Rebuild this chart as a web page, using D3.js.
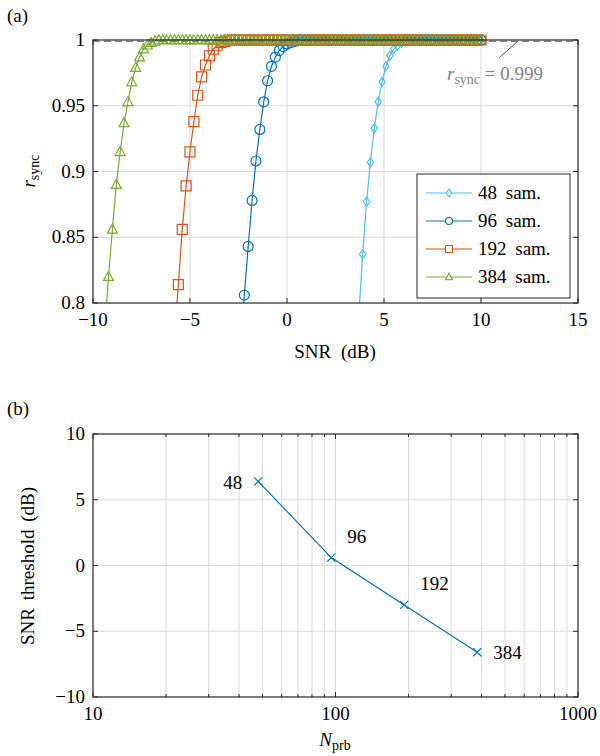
<!DOCTYPE html>
<html>
<head>
<meta charset="utf-8">
<script src="https://cdn.jsdelivr.net/npm/d3@7"></script>
<style>
  body { margin: 0; background: #fff; }
  svg text { font-family: "Times New Roman", "Liberation Serif", Times, serif; }
</style>
</head>
<body>
<svg id="chart" width="600" height="756"></svg>
<script>
// ---- data, panel (a) ----
const seriesNames = ["48 sam.", "96 sam.", "192 sam.", "384 sam."];
const seriesColors = ["#4DBEEE", "#0072BD", "#D95319", "#77AC30"];
const seriesMarkers = ["diamond", "circle", "square", "triangle"];
// first SNR of each rising part (dB), sampled every 0.2 dB
const riseStart = [3.7, -2.4, -5.8, -9.4];
const riseStep = 0.2;
const rise48 = [0.79, 0.837, 0.877, 0.907, 0.933, 0.953, 0.968, 0.98, 0.988, 0.993, 0.996, 0.998, 0.999];
const rise96 = [0.77, 0.806, 0.843, 0.878, 0.908, 0.932, 0.953, 0.969, 0.98, 0.987, 0.992, 0.995, 0.997, 0.998, 0.999];
const rise192 = [0.775, 0.814, 0.856, 0.889, 0.915, 0.938, 0.958, 0.972, 0.981, 0.988, 0.993, 0.996, 0.998, 0.999];
const rise384 = [0.78, 0.82, 0.856, 0.89, 0.915, 0.937, 0.953, 0.968, 0.979, 0.987, 0.993, 0.996, 0.998, 0.999];
const riseValues = [rise48, rise96, rise192, rise384];
const plateauValue = 1;   // all curves sit at 1 up to the last SNR
const snrEnd = 10;
const rThreshold = 0.999;
const xTicksA = [-10, -5, 0, 5, 10, 15];
const yTicksA = [0.8, 0.85, 0.9, 0.95, 1];

// ---- data, panel (b) ----
const nprb = [48, 96, 192, 384];
const snrThreshold = [6.4, 0.6, -3.0, -6.6];
const xTicksB = [10, 100, 1000];
const yTicksB = [-10, -5, 0, 5, 10];

const svg = d3.select("#chart");
const axisColor = "#262626";
const gridColor = "#d9d9d9";
const fmt = d => d < 0 ? "\u2212" + Math.abs(d) : String(d);

function buildSeries(i) {
    const pts = riseValues[i].map((v, k) => ({ x: +(riseStart[i] + k * riseStep).toFixed(2), y: v }));
    let x = pts[pts.length - 1].x + riseStep;
    while (x <= snrEnd + 1e-6) {
        pts.push({ x: +x.toFixed(2), y: plateauValue });
        x += riseStep;
    }
    return pts;
}

function markerPath(type, s) {
    if (type === "circle") return d3.symbol(d3.symbolCircle, Math.PI * s * s)();
    if (type === "square") return `M${-s},${-s}H${s}V${s}H${-s}Z`;
    if (type === "diamond") return `M0,${-s * 1.15}L${s * 0.8},0L0,${s * 1.15}L${-s * 0.8},0Z`;
    if (type === "triangle") return `M0,${-s * 1.05}L${s},${s * 0.75}L${-s},${s * 0.75}Z`;
    if (type === "cross") return `M${-s},${-s}L${s},${s}M${-s},${s}L${s},${-s}`;
}

function frame(g, x, y, xTicks, yTicks, xMinor) {
    const [x0, x1] = x.range();
    const [y0, y1] = y.range();
    const grid = g.append("g").attr("stroke", gridColor).attr("stroke-width", 1);
    (xMinor || []).forEach(t => grid.append("line")
        .attr("x1", x(t)).attr("x2", x(t)).attr("y1", y0).attr("y2", y1));
    xTicks.slice(1, -1).forEach(t => grid.append("line")
        .attr("x1", x(t)).attr("x2", x(t)).attr("y1", y0).attr("y2", y1));
    yTicks.slice(1, -1).forEach(t => grid.append("line")
        .attr("x1", x0).attr("x2", x1).attr("y1", y(t)).attr("y2", y(t)));

    const tk = g.append("g").attr("stroke", axisColor).attr("stroke-width", 1);
    xTicks.forEach(t => {
        tk.append("line").attr("x1", x(t)).attr("x2", x(t)).attr("y1", y0).attr("y2", y0 - 5);
        tk.append("line").attr("x1", x(t)).attr("x2", x(t)).attr("y1", y1).attr("y2", y1 + 5);
    });
    (xMinor || []).forEach(t => {
        tk.append("line").attr("x1", x(t)).attr("x2", x(t)).attr("y1", y0).attr("y2", y0 - 3);
        tk.append("line").attr("x1", x(t)).attr("x2", x(t)).attr("y1", y1).attr("y2", y1 + 3);
    });
    yTicks.forEach(t => {
        tk.append("line").attr("x1", x0).attr("x2", x0 + 5).attr("y1", y(t)).attr("y2", y(t));
        tk.append("line").attr("x1", x1).attr("x2", x1 - 5).attr("y1", y(t)).attr("y2", y(t));
    });

    g.selectAll(".xt").data(xTicks).enter().append("text")
        .attr("x", d => x(d)).attr("y", y0 + 23)
        .attr("text-anchor", "middle").attr("font-size", 19).attr("fill", "#000")
        .text(fmt);
    g.selectAll(".yt").data(yTicks).enter().append("text")
        .attr("x", x0 - 8).attr("y", d => y(d) + 6)
        .attr("text-anchor", "end").attr("font-size", 19).attr("fill", "#000")
        .text(fmt);
}

// ================= panel (a) =================
const xA = d3.scaleLinear().domain([-10, 15]).range([93, 578]);
const yA = d3.scaleLinear().domain([0.8, 1]).range([303, 40]);
const gA = svg.append("g");

svg.append("defs").append("clipPath").attr("id", "clipA")
    .append("rect").attr("x", 93).attr("y", 0).attr("width", 485).attr("height", 303);

frame(gA, xA, yA, xTicksA, yTicksA);

gA.append("line")
    .attr("x1", xA(-10)).attr("x2", xA(15))
    .attr("y1", yA(rThreshold)).attr("y2", yA(rThreshold))
    .attr("stroke", "#808080").attr("stroke-width", 1.2).attr("stroke-dasharray", "7,4");

const line = d3.line().x(d => xA(d.x)).y(d => yA(d.y));
seriesNames.forEach((name, i) => {
    const pts = buildSeries(i);
    const sg = gA.append("g");
    sg.append("path").datum(pts)
        .attr("d", line).attr("clip-path", "url(#clipA)")
        .attr("fill", "none").attr("stroke", seriesColors[i]).attr("stroke-width", 1.2);
    sg.selectAll("path.m").data(pts.filter(d => d.y >= 0.8)).enter().append("path")
        .attr("class", "m")
        .attr("transform", d => `translate(${xA(d.x)},${yA(d.y)})`)
        .attr("d", markerPath(seriesMarkers[i], i === 0 ? 4 : 5))
        .attr("fill", "none").attr("stroke", seriesColors[i]).attr("stroke-width", 1.2);
});

// box
gA.append("rect").attr("x", 93).attr("y", 40).attr("width", 485).attr("height", 263)
    .attr("fill", "none").attr("stroke", axisColor).attr("stroke-width", 1.2);

// annotation
gA.append("line").attr("x1", 499).attr("y1", 58).attr("x2", 518).attr("y2", 41)
    .attr("stroke", "#555").attr("stroke-width", 1);
const ann = gA.append("text").attr("x", 447).attr("y", 80).attr("font-size", 19).attr("fill", "#808080");
ann.append("tspan").attr("font-style", "italic").text("r");
ann.append("tspan").attr("font-size", 14).attr("dy", 4).text("sync");
ann.append("tspan").attr("dy", -4).text(" = 0.999");

// legend
const lg = gA.append("g");
lg.append("rect").attr("x", 417).attr("y", 174).attr("width", 153).attr("height", 124)
    .attr("fill", "#fff").attr("stroke", axisColor).attr("stroke-width", 1);
seriesNames.forEach((name, i) => {
    const ly = 193 + i * 28;
    lg.append("line").attr("x1", 426).attr("x2", 472).attr("y1", ly).attr("y2", ly)
        .attr("stroke", seriesColors[i]).attr("stroke-width", 1.2);
    lg.append("path").attr("transform", `translate(449,${ly})`)
        .attr("d", markerPath(seriesMarkers[i], 3.5))
        .attr("fill", "#fff").attr("stroke", seriesColors[i]).attr("stroke-width", 1.2);
    lg.append("text").attr("x", 478).attr("y", ly + 6).attr("font-size", 19)
        .attr("word-spacing", 4).text(name);
});

// labels
svg.append("text").attr("x", 7).attr("y", 22).attr("font-size", 19).text("(a)");
svg.append("text").attr("x", 335).attr("y", 358).attr("font-size", 19)
    .attr("text-anchor", "middle").attr("word-spacing", 5).text("SNR (dB)");
const ylA = svg.append("text").attr("transform", "translate(35,171) rotate(-90)")
    .attr("text-anchor", "middle").attr("font-size", 19);
ylA.append("tspan").attr("font-style", "italic").text("r");
ylA.append("tspan").attr("font-size", 14).attr("dy", 4).text("sync");

// ================= panel (b) =================
const xB = d3.scaleLog().domain([10, 1000]).range([93, 578]);
const yB = d3.scaleLinear().domain([-10, 10]).range([697, 434]);
const gB = svg.append("g");
const minorB = xB.ticks().filter(t => !xTicksB.includes(t));

frame(gB, xB, yB, xTicksB, yTicksB, minorB);

const bPts = nprb.map((n, i) => ({ x: n, y: snrThreshold[i] }));
gB.append("path").datum(bPts)
    .attr("d", d3.line().x(d => xB(d.x)).y(d => yB(d.y)))
    .attr("fill", "none").attr("stroke", "#0072BD").attr("stroke-width", 1.2);
gB.selectAll("path.x").data(bPts).enter().append("path")
    .attr("class", "x")
    .attr("transform", d => `translate(${xB(d.x)},${yB(d.y)})`)
    .attr("d", markerPath("cross", 4))
    .attr("fill", "none").attr("stroke", "#0072BD").attr("stroke-width", 1.2);

// point labels
const labelOffsets = [[-16, 8, "end"], [16, -15, "start"], [16, -15, "start"], [16, 7, "start"]];
gB.selectAll("text.pl").data(bPts).enter().append("text")
    .attr("class", "pl")
    .attr("x", (d, i) => xB(d.x) + labelOffsets[i][0])
    .attr("y", (d, i) => yB(d.y) + labelOffsets[i][1])
    .attr("text-anchor", (d, i) => labelOffsets[i][2])
    .attr("font-size", 19)
    .text(d => d.x);

gB.append("rect").attr("x", 93).attr("y", 434).attr("width", 485).attr("height", 263)
    .attr("fill", "none").attr("stroke", axisColor).attr("stroke-width", 1.2);

svg.append("text").attr("x", 7).attr("y", 415).attr("font-size", 19).text("(b)");
const xlB = svg.append("text").attr("x", 335).attr("y", 746)
    .attr("text-anchor", "middle").attr("font-size", 19);
xlB.append("tspan").attr("font-style", "italic").text("N");
xlB.append("tspan").attr("font-size", 14).attr("dy", 4).text("prb");
svg.append("text").attr("transform", "translate(34,566) rotate(-90)")
    .attr("text-anchor", "middle").attr("font-size", 19).attr("word-spacing", 3)
    .text("SNR threshold (dB)");
</script>
</body>
</html>
